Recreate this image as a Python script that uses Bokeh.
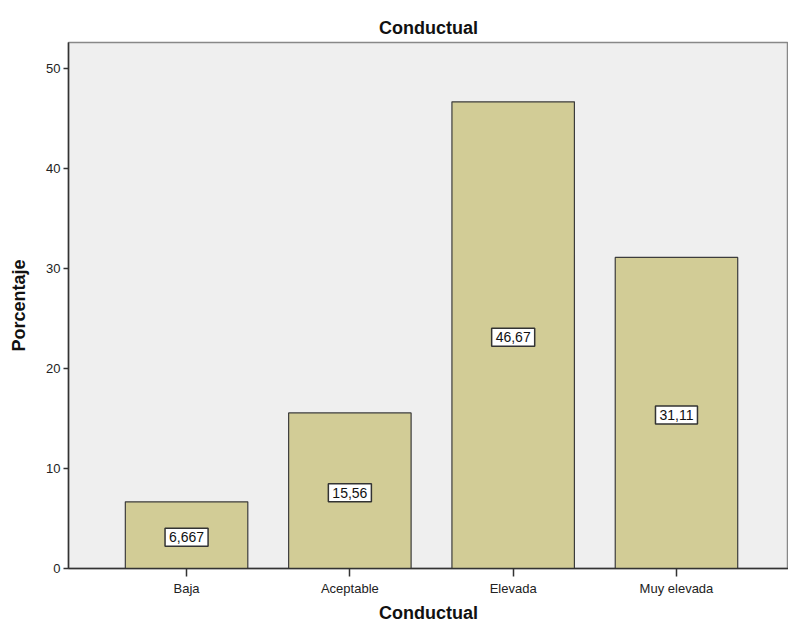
from bokeh.plotting import figure
from bokeh.models import ColumnDataSource, FixedTicker, Range1d
from bokeh.core.properties import value
from bokeh.embed import file_html
from bokeh.resources import INLINE

categories = ["Baja", "Aceptable", "Elevada", "Muy elevada"]
percentages = [6.667, 15.56, 46.67, 31.11]
value_labels = ["6,667", "15,56", "46,67", "31,11"]
y_ticks = [0, 10, 20, 30, 40, 50]

xs = list(range(1, len(categories) + 1))
src = ColumnDataSource(dict(
    x=xs, top=percentages, mid=[v / 2 for v in percentages], lab=value_labels,
))

FONT = "Liberation Sans"
p = figure(width=788, height=625, output_backend="svg", toolbar_location=None,
           x_range=Range1d(0.277, 4.686), y_range=Range1d(0, 52.6),
           min_border_left=68, min_border_right=0, min_border_top=42,
           min_border_bottom=57)
p.title.text = "Conductual"
p.title.align = "center"
p.title.text_font = FONT
p.title.text_font_size = "18px"
p.title.text_font_style = "bold"
p.title.text_color = "#111111"
p.title.offset = 0

p.background_fill_color = "#EFEFEF"
p.border_fill_color = "white"
p.outline_line_color = "#888888"
p.outline_line_width = 1.5
p.xgrid.visible = False
p.ygrid.visible = False

p.vbar(x="x", top="top", width=0.75, source=src, fill_color="#D2CC96",
       line_color="#3C3C3C", line_width=1.2)

p.text(x="x", y="mid", text="lab", source=src, text_align="center",
       text_baseline="middle", text_font_size="14px",
       text_font=value(FONT), text_color="#111111", y_offset=2,
       background_fill_color="white", border_line_color="#333333",
       border_line_width=1.5, padding=4)

p.xaxis.ticker = FixedTicker(ticks=xs)
p.xaxis.major_label_overrides = {i: c for i, c in zip(xs, categories)}
p.xaxis.axis_label = "Conductual"
p.yaxis.ticker = FixedTicker(ticks=y_ticks)
p.yaxis.axis_label = "Porcentaje"
for ax in (p.xaxis, p.yaxis):
    ax.axis_label_text_font = FONT
    ax.axis_label_text_font_size = "18px"
    ax.axis_label_text_font_style = "bold"
    ax.axis_label_text_color = "#111111"
    ax.major_label_text_font = FONT
    ax.major_label_text_font_size = "13px"
    ax.major_label_text_color = "#222222"
    ax.axis_line_color = "#333333"
    ax.axis_line_width = 1.5
    ax.major_tick_line_color = "#333333"
    ax.major_tick_line_width = 1.5
    ax.major_tick_in = 0
    ax.minor_tick_line_color = None
p.xaxis.major_tick_out = 8
p.yaxis.major_tick_out = 5
p.xaxis.major_label_standoff = 4
p.yaxis.major_label_standoff = 3
p.xaxis.axis_label_standoff = 4
p.yaxis.axis_label_standoff = 14

open("out.html", "w").write(file_html(p, INLINE))
